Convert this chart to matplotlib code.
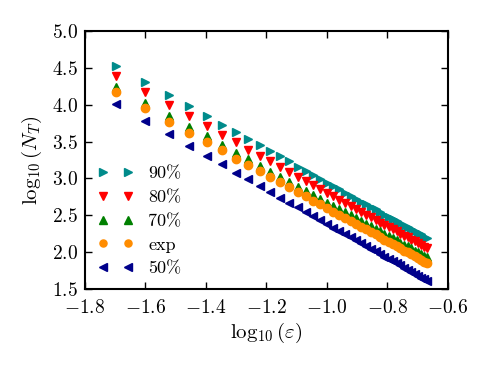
import numpy as np
import matplotlib
matplotlib.use("Agg")
import matplotlib.pyplot as plt

plt.rcParams['mathtext.fontset'] = 'cm'
plt.rcParams['font.family'] = 'serif'
plt.rcParams['font.serif'] = ['cmr10', 'DejaVu Serif']
plt.rcParams['axes.formatter.use_mathtext'] = True

# tolerance values (x axis shows log10 of these)
eps = [0.020, 0.025, 0.030, 0.035, 0.040, 0.045, 0.050, 0.055, 0.060, 0.065,
       0.070, 0.075, 0.080, 0.085, 0.090, 0.095, 0.100, 0.105, 0.110, 0.115,
       0.120, 0.125, 0.130, 0.135, 0.140, 0.145, 0.150, 0.155, 0.160, 0.165,
       0.170, 0.175, 0.180, 0.185, 0.190, 0.195, 0.200, 0.205, 0.210, 0.215]

# log10(N_T)
n90 = [4.53, 4.31, 4.13, 3.98, 3.85, 3.73, 3.63, 3.53, 3.45, 3.37,
       3.30, 3.23, 3.16, 3.10, 3.05, 2.99, 2.94, 2.90, 2.85, 2.80,
       2.76, 2.72, 2.68, 2.65, 2.61, 2.58, 2.54, 2.51, 2.48, 2.45,
       2.42, 2.39, 2.36, 2.34, 2.31, 2.29, 2.26, 2.24, 2.21, 2.19]
n80 = [4.39, 4.17, 3.99, 3.84, 3.71, 3.59, 3.49, 3.39, 3.31, 3.23,
       3.16, 3.09, 3.02, 2.96, 2.91, 2.85, 2.80, 2.76, 2.71, 2.66,
       2.62, 2.58, 2.54, 2.51, 2.47, 2.44, 2.40, 2.37, 2.34, 2.31,
       2.28, 2.25, 2.22, 2.20, 2.17, 2.15, 2.12, 2.10, 2.07, 2.05]
n70 = [4.24, 4.02, 3.85, 3.70, 3.57, 3.45, 3.35, 3.26, 3.17, 3.09,
       3.02, 2.95, 2.89, 2.83, 2.78, 2.72, 2.67, 2.63, 2.58, 2.54,
       2.50, 2.46, 2.42, 2.38, 2.35, 2.31, 2.28, 2.25, 2.22, 2.19,
       2.16, 2.13, 2.10, 2.08, 2.05, 2.02, 2.00, 1.98, 1.95, 1.93]
nexp = [4.17, 3.95, 3.77, 3.62, 3.49, 3.38, 3.27, 3.18, 3.10, 3.02,
        2.95, 2.88, 2.82, 2.76, 2.70, 2.65, 2.60, 2.55, 2.51, 2.46,
        2.42, 2.38, 2.34, 2.31, 2.27, 2.24, 2.20, 2.17, 2.14, 2.11,
        2.08, 2.05, 2.02, 2.00, 1.97, 1.95, 1.92, 1.90, 1.87, 1.85]
n50 = [4.01, 3.78, 3.60, 3.44, 3.31, 3.19, 3.08, 2.99, 2.90, 2.82,
       2.74, 2.67, 2.61, 2.55, 2.49, 2.43, 2.38, 2.33, 2.29, 2.24,
       2.20, 2.16, 2.12, 2.08, 2.04, 2.01, 1.97, 1.94, 1.91, 1.88,
       1.85, 1.82, 1.79, 1.76, 1.73, 1.71, 1.68, 1.65, 1.63, 1.61]

labels = ['90%', '80%', '70%', 'exp', '50%']

x = np.log10(eps)

fig = plt.figure(figsize=(4.9, 3.68), dpi=100)
ax = fig.add_axes([0.1735, 0.2147, 0.7405, 0.7011])

series = [n90, n80, n70, nexp, n50]
markers = ['>', 'v', '^', 'o', '<']
colors = ['#008b8b', '#ff0000', '#008000', '#ff8c00', '#00008b']
for y, m, c, lab in zip(series, markers, colors, labels):
    ax.plot(x, y, linestyle='none', marker=m, color=c, markeredgecolor=c,
            markersize=6, label=lab)

ax.set_xlim(-1.8, -0.6)
ax.set_ylim(1.5, 5.0)
ax.set_xticks(np.arange(-1.8, -0.59, 0.2))
ax.set_yticks(np.arange(1.5, 5.01, 0.5))
ax.tick_params(direction='in', top=True, right=True, length=5, width=1,
               labelsize=14, pad=5)
ax.tick_params(axis='x', pad=7)
for s in ax.spines.values():
    s.set_linewidth(1.5)

ax.set_xlabel(r'$\log_{10}(\varepsilon)$', fontsize=15, labelpad=3)
ax.set_ylabel(r'$\log_{10}(N_T)$', fontsize=15, labelpad=6)

ax.legend(loc='lower left', numpoints=2, frameon=False, fontsize=13,
          markerscale=0.85, handlelength=2.0, labelspacing=0.45,
          handletextpad=0.8, borderaxespad=0.3)

fig.savefig('out.png', dpi=100)
